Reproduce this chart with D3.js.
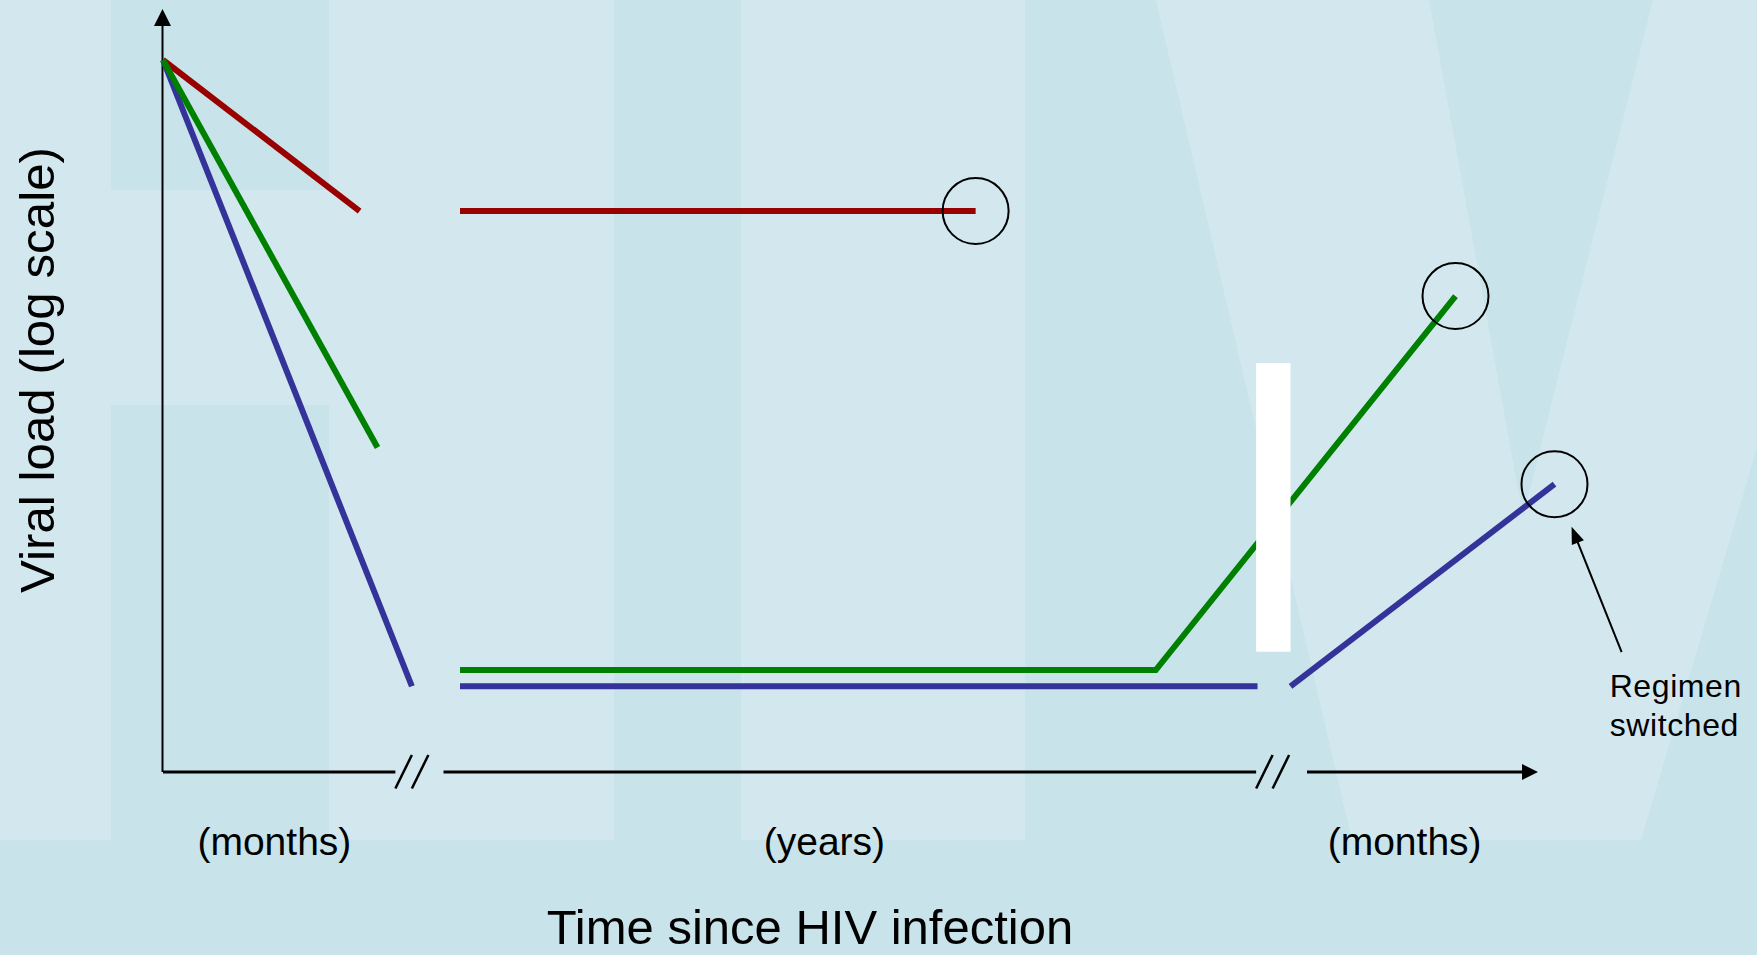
<!DOCTYPE html>
<html>
<head>
<meta charset="utf-8">
<script src="https://cdn.jsdelivr.net/npm/d3@7"></script>
<style>
  html, body { margin: 0; padding: 0; background: #d3e8ee; overflow: hidden; }
  svg text { font-family: "Liberation Sans", Arial, sans-serif; fill: #000; }
</style>
</head>
<body>
<svg id="chart"></svg>
<script>
// schematic viral load curves, x in arbitrary time units (axis is broken twice)
const timeUnits = ['(months)', '(years)', '(months)'];
const timeUnitAt = [8.1, 48.1, 90.3];
const axisPieces = [[0, 16.9], [20.4, 79.5], [83.2, 100]];
const axisBreaks = [16.9, 79.5];

// [time, copies/ml]
const redMonths = [[0, 1e6], [14.3, 87000]];
const redYears = [[21.6, 87000], [59.1, 87000]];
const greenMonths = [[0, 1e6], [15.6, 1900]];
const greenYears = [[21.6, 52], [72.2, 52], [94.0, 22000]];
const blueMonths = [[0, 1e6], [18.1, 40]];
const blueYears = [[21.6, 40], [79.6, 40]];
const blueSwitch = [[82.0, 40], [101.2, 1050]];
const failurePoints = [[59.1, 87000], [94.0, 22000], [101.2, 1050]];
const switchedPoint = [101.2, 1050];
const maskBox = [[79.5, 7450], [82.0, 70]];

const width = 1757, height = 955;

const svg = d3.select('#chart')
  .attr('width', width)
  .attr('height', height);

// background (template watermark)
const light = '#d3e8ee', dark = '#c9e3ea';
svg.append('rect').attr('width', width).attr('height', height).attr('fill', light);
const bgShapes = [
  [[0, 840], [width, 840], [width, height], [0, height]],
  [[111, 0], [329, 0], [329, 190], [111, 190]],
  [[111, 405], [329, 405], [329, 840], [111, 840]],
  [[614, 0], [741, 0], [741, 840], [614, 840]],
  [[1025, 0], [1156, 0], [1352, 840], [1025, 840]],
  [[1429, 0], [1653, 0], [1523, 517]],
  [[width, 448], [width, 840], [1641, 840]]
];
svg.selectAll('polygon.bg')
  .data(bgShapes)
  .enter()
  .append('polygon')
  .attr('class', 'bg')
  .attr('points', d => d.map(p => p.join(',')).join(' '))
  .attr('fill', dark);

const x = d3.scaleLinear().domain([0, 100]).range([163, 1538]);
const y = d3.scaleLog().domain([10, 1e6]).range([772, 60]);

const line = d3.line().x(d => x(d[0])).y(d => y(d[1]));

// y axis with arrow
const x0 = x(0) - 0.5;
const yBase = y(10);
svg.append('line')
  .attr('x1', x0).attr('x2', x0)
  .attr('y1', yBase).attr('y2', 24)
  .attr('stroke', '#000').attr('stroke-width', 2);
svg.append('polygon')
  .attr('points', `${x0},9 ${x0 - 8.5},26 ${x0 + 8.5},26`)
  .attr('fill', '#000');

// x axis in three pieces
svg.selectAll('line.xpiece')
  .data(axisPieces)
  .enter()
  .append('line')
  .attr('class', 'xpiece')
  .attr('x1', d => x(d[0]))
  .attr('x2', (d, i) => i == axisPieces.length - 1 ? x(d[1]) - 14 : x(d[1]))
  .attr('y1', yBase).attr('y2', yBase)
  .attr('stroke', '#000').attr('stroke-width', 3);
const xEnd = x(axisPieces[axisPieces.length - 1][1]);
svg.append('polygon')
  .attr('points', `${xEnd},${yBase} ${xEnd - 16},${yBase - 8} ${xEnd - 16},${yBase + 8}`)
  .attr('fill', '#000');

// break marks //
axisBreaks.forEach(b => {
  [0, 16.5].forEach(off => {
    svg.append('line')
      .attr('x1', x(b) + off).attr('y1', yBase + 16.5)
      .attr('x2', x(b) + off + 16.5).attr('y2', yBase - 17)
      .attr('stroke', '#000').attr('stroke-width', 2.5);
  });
});

// curves
const curves = [
  { pts: redMonths, color: '#990000' },
  { pts: redYears, color: '#990000' },
  { pts: blueMonths, color: '#333399' },
  { pts: blueYears, color: '#333399' },
  { pts: blueSwitch, color: '#333399' },
  { pts: greenMonths, color: '#008000' },
  { pts: greenYears, color: '#008000' }
];
svg.selectAll('path.curve')
  .data(curves)
  .enter()
  .append('path')
  .attr('class', 'curve')
  .attr('d', d => line(d.pts))
  .attr('fill', 'none')
  .attr('stroke', d => d.color)
  .attr('stroke-width', 6)
  .attr('stroke-linejoin', 'miter');

// white mask over the green rise
svg.append('rect')
  .attr('x', x(maskBox[0][0]))
  .attr('y', y(maskBox[0][1]))
  .attr('width', x(maskBox[1][0]) - x(maskBox[0][0]))
  .attr('height', y(maskBox[1][1]) - y(maskBox[0][1]))
  .attr('fill', '#fff');

// circles at virological failure
svg.selectAll('circle.fail')
  .data(failurePoints)
  .enter()
  .append('circle')
  .attr('class', 'fail')
  .attr('cx', d => x(d[0]))
  .attr('cy', d => y(d[1]))
  .attr('r', 33)
  .attr('fill', 'none')
  .attr('stroke', '#000')
  .attr('stroke-width', 2);

// annotation arrow
const sx = x(switchedPoint[0]), sy = y(switchedPoint[1]);
const ux = 0.371, uy = 0.928;
const tip = [sx + ux * 46, sy + uy * 46];
const tail = [tip[0] + ux * 135, tip[1] + uy * 135];
svg.append('line')
  .attr('x1', tail[0]).attr('y1', tail[1])
  .attr('x2', tip[0] + ux * 14).attr('y2', tip[1] + uy * 14)
  .attr('stroke', '#000').attr('stroke-width', 2);
const bx = tip[0] + ux * 17, by = tip[1] + uy * 17;
svg.append('polygon')
  .attr('points', `${tip[0]},${tip[1]} ${bx - uy * 6.5},${by + ux * 6.5} ${bx + uy * 6.5},${by - ux * 6.5}`)
  .attr('fill', '#000');

svg.append('text')
  .attr('x', tail[0] - 12).attr('y', tail[1] + 45)
  .style('font-size', '32px')
  .style('letter-spacing', '0.6px')
  .text('Regimen');
svg.append('text')
  .attr('x', tail[0] - 12).attr('y', tail[1] + 84)
  .style('font-size', '32px')
  .style('letter-spacing', '0.6px')
  .text('switched');

// labels
svg.selectAll('text.unit')
  .data(timeUnits)
  .enter()
  .append('text')
  .attr('class', 'unit')
  .attr('x', (d, i) => x(timeUnitAt[i]))
  .attr('y', 855)
  .style('text-anchor', 'middle')
  .style('font-size', '39px')
  .text(d => d);

svg.append('text')
  .attr('x', 810).attr('y', 944)
  .style('text-anchor', 'middle')
  .style('font-size', '49px')
  .text('Time since HIV infection');

svg.append('text')
  .attr('transform', 'translate(54,370) rotate(-90)')
  .style('text-anchor', 'middle')
  .style('font-size', '48px')
  .attr('textLength', 446)
  .attr('lengthAdjust', 'spacingAndGlyphs')
  .text('Viral load (log scale)');
</script>
</body>
</html>
